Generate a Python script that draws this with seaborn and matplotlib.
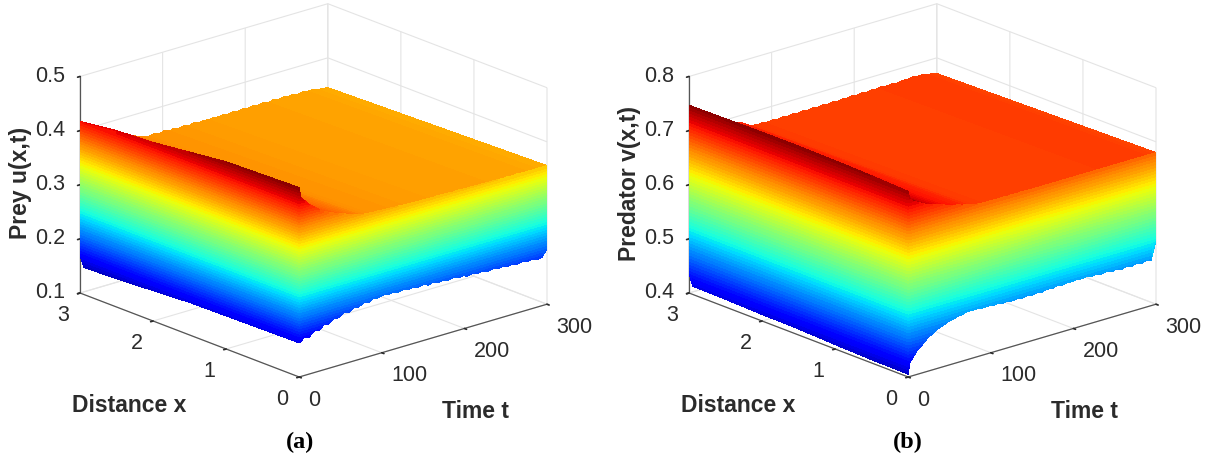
import numpy as np
import matplotlib
matplotlib.use("Agg")
import matplotlib.pyplot as plt
from matplotlib.colors import ListedColormap
from mpl_toolkits.mplot3d import proj3d
import seaborn as sns

# ---- values ----
time_t = [0, 2, 6, 12, 18, 24, 30, 36, 42, 48, 54, 60, 66, 72, 78, 84, 90, 96, 102, 108,
          114, 120, 126, 132, 138, 144, 150, 156, 162, 168, 174, 180, 186, 192, 198, 204,
          210, 216, 222, 228, 234, 240, 246, 252, 258, 264, 270, 276, 282, 288, 294, 300]
distance_x = [0, 0.5, 1, 1.5, 2, 2.5, 2.95, 3]

# prey: lower edge and upper edge of the wall at x = 0, against time
prey_x0_low = [.163, .165, .170, .168, .177, .175, .183, .182, .189, .188, .194, .192, .198,
               .197, .202, .200, .205, .203, .206, .204, .206, .203, .205, .202, .204, .201,
               .203, .200, .202, .199, .201, .198, .200, .197, .198, .195, .197, .194, .196,
               .193, .195, .192, .194, .191, .193, .190, .192, .189, .191, .188, .189, .203]
prey_x0_high = [.450, .430, .424, .414, .406, .399, .393, .388, .384, .380, .377, .374, .371,
                .368, .366, .365, .364, .364, .363, .363, .362, .362, .361, .361, .360, .360,
                .360, .360, .359, .360, .359, .359, .358, .359, .358, .358, .358, .357, .358,
                .357, .357, .357, .356, .357, .356, .357, .356, .356, .356, .356, .356, .356]
# prey: far edge of the top sheet at x = 3, against time
prey_x3_high = [.417, .405, .395, .385, .378, .373, .369, .367, .366, .365, .365, .364, .361,
                .356, .354, .352, .354, .351, .354, .351, .353, .351, .353, .350, .353, .350,
                .352, .350, .352, .350, .352, .350, .352, .350, .352, .350, .352, .350, .352,
                .350, .352, .350, .352, .350, .352, .349, .351, .349, .350, .347, .346, .345]
# prey: wall at t = 0, against distance
prey_t0_low = [.163, .162, .161, .160, .156, .152, .150, .170]
prey_t0_high = [.450, .448, .446, .438, .430, .426, .418, .417]

# predator
pred_x0_low = [.405, .425, .434, .446, .453, .462, .467, .473, .476, .480, .482, .485, .486,
               .489, .488, .489, .487, .488, .486, .487, .485, .486, .484, .486, .484, .486,
               .484, .486, .484, .487, .485, .488, .486, .488, .487, .489, .487, .489, .486,
               .488, .485, .487, .484, .486, .483, .486, .483, .486, .483, .486, .484, .518]
pred_x0_high = [.743, .728, .722, .717, .712, .708, .705, .702, .699, .696, .693, .691, .688,
                .686, .684, .682, .681, .681, .681, .680, .681, .680, .681, .680, .681, .680,
                .680, .680, .680, .680, .680, .680, .680, .680, .680, .680, .680, .680, .680,
                .680, .680, .680, .680, .680, .680, .680, .680, .680, .680, .680, .680, .680]
pred_x3_high = [.747, .740, .730, .720, .712, .705, .700, .696, .693, .691, .690, .689, .684,
                .678, .675, .674, .675, .673, .675, .673, .675, .673, .675, .673, .675, .673,
                .675, .673, .675, .673, .675, .673, .675, .674, .676, .674, .676, .674, .676,
                .675, .677, .675, .677, .675, .677, .676, .678, .676, .677, .675, .673, .671]
pred_t0_low = [.405, .406, .408, .411, .412, .414, .415, .437]
pred_t0_high = [.743, .746, .748, .749, .749, .748, .747, .747]

prey_z_ticks = [0.1, 0.2, 0.3, 0.4, 0.5]
pred_z_ticks = [0.4, 0.5, 0.6, 0.7, 0.8]
t_ticks = [0, 100, 200, 300]
x_ticks = [0, 1, 2, 3]

# ---- look ----
sns.set_theme(style="whitegrid", rc={
    "grid.color": "#e4e4e4", "grid.linewidth": 0.8,
    "axes.edgecolor": "#555555", "axes.linewidth": 0.9,
})
plt.rcParams["font.family"] = ["Liberation Sans", "DejaVu Sans"]
INK = "#2b2b2b"
jet = ListedColormap(sns.mpl_palette("jet", 64))
jet_fine = ListedColormap(sns.mpl_palette("jet", 256))
N_BANDS = 64

W, H = 1214, 459
fig = plt.figure(figsize=(W / 100, H / 100), dpi=100, facecolor="white")


def project(ax, t, x, z):
    xs, ys, _ = proj3d.proj_transform(t, x, z, ax.get_proj())
    return ax.transData.transform((xs, ys))


def fit_axes(ax, zlow, left_px, right_px):
    """Scale and shift the square axes so the floor corners land on the target pixels."""
    side, cx, cy = 600.0, W / 2, H / 2
    for _ in range(3):
        ax.set_position([(cx - side / 2) / W, (cy - side / 2) / H, side / W, side / H])
        ax.apply_aspect()
        a = project(ax, 0, 3, zlow)
        b = project(ax, 300, 0, zlow)
        side *= (right_px[0] - left_px[0]) / (b[0] - a[0])
        ax.set_position([(cx - side / 2) / W, (cy - side / 2) / H, side / W, side / H])
        ax.apply_aspect()
        a = project(ax, 0, 3, zlow)
        cx += left_px[0] - a[0]
        cy += (H - left_px[1]) - a[1]


def panel(zlim, zticks, vlim, top_shift, x0_low, x0_high, x3_high, t0_low, t0_high,
          zlabel, left_px, right_px, label_pads):
    ax = fig.add_subplot(projection="3d", proj_type="ortho", computed_zorder=False)
    ax.patch.set_visible(False)
    ax.view_init(elev=19.6, azim=-131.2)
    ax.set_box_aspect((329.6, 333, 230))
    ax.set_xlim(0, 300)
    ax.set_ylim(0, 3)
    ax.set_zlim(*zlim)
    ax.set_xticks(t_ticks)
    ax.set_yticks(x_ticks)
    ax.set_zticks(zticks)
    ax.set_zticklabels([f"{v:.1f}" for v in zticks])
    fit_axes(ax, zlim[0], left_px, right_px)

    t = np.asarray(time_t, float)
    x = np.asarray(distance_x, float)
    levels = np.linspace(vlim[0], vlim[1], N_BANDS + 1)
    kw = dict(shade=False, linewidth=0, antialiased=False)

    # top sheet: one strip per time step between x = 0 and x = 3
    T, X = np.meshgrid(t, [0.0, 3.0], indexing="ij")
    Z = np.column_stack([x0_high, x3_high])
    ax.plot_surface(T, X, Z, cmap=jet_fine, vmin=vlim[0] - top_shift, vmax=vlim[1] - top_shift,
                    rcount=T.shape[0], ccount=2, zorder=2, **kw)

    # wall at x = 0
    T, L = np.meshgrid(t, levels, indexing="ij")
    Z = np.clip(L, np.asarray(x0_low)[:, None], np.asarray(x0_high)[:, None])
    ax.plot_surface(T, np.zeros_like(T), Z, cmap=jet, vmin=vlim[0], vmax=vlim[1],
                    rcount=T.shape[0], ccount=T.shape[1], zorder=3, **kw)

    # wall at t = 0
    X, L = np.meshgrid(x, levels, indexing="ij")
    Z = np.clip(L, np.asarray(t0_low)[:, None], np.asarray(t0_high)[:, None])
    ax.plot_surface(np.zeros_like(X), X, Z, cmap=jet, vmin=vlim[0], vmax=vlim[1],
                    rcount=X.shape[0], ccount=X.shape[1], zorder=4, **kw)

    for axis in (ax.xaxis, ax.yaxis, ax.zaxis):
        axis.set_pane_color((1, 1, 1, 0))
        axis.pane.set_edgecolor("#dcdcdc")
        axis.pane.set_linewidth(0.8)
        axis._axinfo["tick"]["inward_factor"] = 0.12
        axis._axinfo["tick"]["outward_factor"] = 0.0
        axis.set_rotate_label(False)
    ax.tick_params(axis="both", labelsize=15.5, colors=INK)
    ax.tick_params(axis="x", pad=0)
    ax.tick_params(axis="y", pad=0)
    ax.tick_params(axis="z", pad=-2)
    for lab in ax.get_xticklabels():
        lab.set_ha("left")
    for lab in ax.get_yticklabels():
        lab.set_ha("right")
    for lab in ax.get_zticklabels():
        lab.set_ha("right")
        lab.set_va("center")
    lab_kw = dict(fontsize=16.5, fontweight="bold", color=INK)
    ax.set_xlabel("Time t", labelpad=label_pads[0], **lab_kw)
    ax.set_ylabel("Distance x", labelpad=label_pads[1], **lab_kw)
    ax.set_zlabel(zlabel, labelpad=label_pads[2], rotation=90, **lab_kw)
    return ax


panel((0.1, 0.5), prey_z_ticks, (0.135, 0.45), 0.0135,
      prey_x0_low, prey_x0_high, prey_x3_high, prey_t0_low, prey_t0_high,
      "Prey u(x,t)", (80, 293), (547, 304), (24, 25, 3))
panel((0.4, 0.8), pred_z_ticks, (0.385, 0.75), 0.015,
      pred_x0_low, pred_x0_high, pred_x3_high, pred_t0_low, pred_t0_high,
      "Predator v(x,t)", (689, 293), (1156, 304), (24, 25, 3))

cap = dict(fontsize=17.5, fontweight="bold", family=["Liberation Serif"], color="black",
           ha="center", va="center")
fig.text(300 / W, 1 - 442 / H, "(a)", **cap)
fig.text(908 / W, 1 - 442 / H, "(b)", **cap)

fig.savefig("out.png", dpi=100, facecolor="white")
